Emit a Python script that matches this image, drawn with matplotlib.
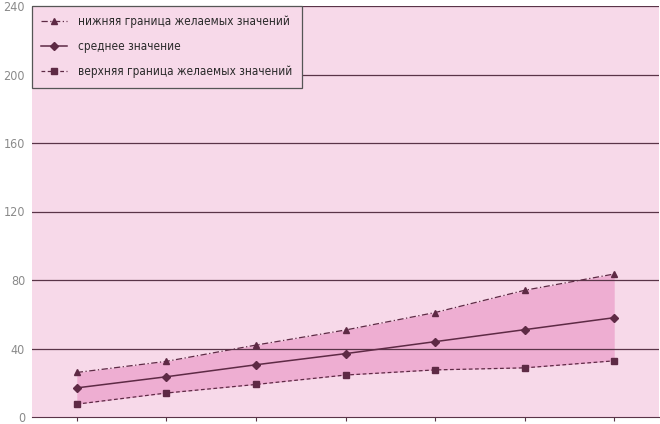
import matplotlib.pyplot as plt

# chart data
points = [0, 1, 2, 3, 4, 5, 6]
upper = [26, 32.5, 42, 50.8, 61, 74, 83.5]
mean = [17, 23.5, 30.5, 37, 44, 51, 58]
lower = [7.5, 14, 19, 24.5, 27.5, 28.7, 32.8]
labels = ["нижняя граница желаемых значений",
          "среднее значение",
          "верхняя граница желаемых значений"]
y_ticks = [0, 40, 80, 120, 160, 200, 240]

plt.rcParams['font.family'] = ['DejaVu Sans']
plt.rcParams['font.stretch'] = 'condensed'

line_color = "#5e2a45"
fig = plt.figure(figsize=(6.6, 4.24), dpi=100)
ax = fig.add_axes([32 / 660, 7 / 424, 627 / 660, 411 / 424])
ax.set_facecolor("#f7d9e9")

ax.fill_between(points, lower, upper, color="#eeaed2", linewidth=0, zorder=1)
for y in y_ticks[1:]:
    ax.axhline(y, color="#5a3448", linewidth=0.9, zorder=2)

ax.plot(points, upper, linestyle=(0, (5, 2, 1, 2)), color=line_color,
        marker="^", markersize=5, linewidth=0.9, label=labels[0], zorder=3)
ax.plot(points, mean, linestyle="-", color=line_color,
        marker="D", markersize=4.5, linewidth=1.1, label=labels[1], zorder=3)
ax.plot(points, lower, linestyle=(0, (3, 2)), color=line_color,
        marker="s", markersize=4.5, linewidth=0.9, label=labels[2], zorder=3)

ax.set_xlim(-0.5, 6.5)
ax.set_ylim(0, 240)
ax.set_xticks(points)
ax.set_xticklabels([])
ax.set_yticks(y_ticks)
ax.tick_params(axis="y", length=0, pad=5, labelsize=9, labelcolor="#8a8a8a")
ax.tick_params(axis="x", length=3, width=0.8, color="#5a3448", direction="out")
for side in ["left", "right", "top"]:
    ax.spines[side].set_visible(False)
ax.spines["bottom"].set_color("#5a3448")

leg = ax.legend(loc="upper left", bbox_to_anchor=(0, 1), borderaxespad=0,
                fontsize=8.5, frameon=True, fancybox=False, handlelength=2.2,
                handletextpad=0.9, labelspacing=1.0, borderpad=0.8)
leg.get_frame().set_facecolor("#f7d9e9")
leg.get_frame().set_edgecolor("#555555")
leg.get_frame().set_alpha(1)
leg.get_frame().set_linewidth(0.9)
for t in leg.get_texts():
    t.set_color("#2a2a2a")

plt.savefig("out.png", dpi=100)
plt.close()
